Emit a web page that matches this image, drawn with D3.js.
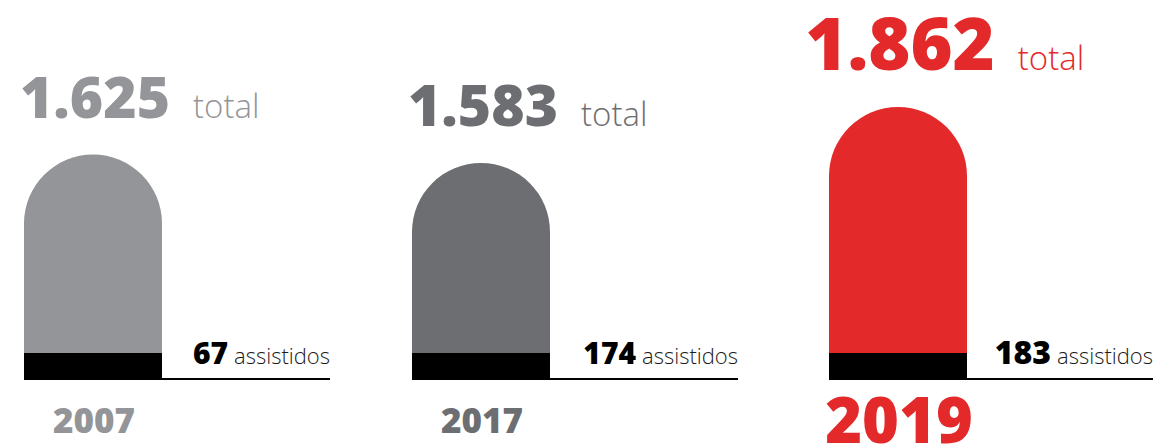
<!DOCTYPE html>
<html>
<head>
<meta charset="utf-8">
<script src="https://cdn.jsdelivr.net/npm/d3@7"></script>
<style>
  body { margin: 0; background: #fff; }
  svg text { font-family: "Open Sans", "DejaVu Sans", sans-serif; }
  .num { font-weight: 800; }
  .word { font-weight: 300; }
</style>
</head>
<body>
<div id="chart"></div>
<script>
// Data
const years = ["2007", "2017", "2019"];
const totals = [1625, 1583, 1862];
const assisted = [67, 174, 183];
const colors = ["#939598", "#6d6e71", "#e3292a"];

const width = 1159, height = 446;
const barWidth = 138;
const baseY = 380;      // bottom of the bars
const bandH = 27;       // black band at the foot of each bar

const svg = d3.select("#chart").append("svg")
    .attr("width", width)
    .attr("height", height);

// pt-BR number format (1.625)
const br = d3.formatLocale({decimal: ",", thousands: ".", grouping: [3], currency: ["R$", ""]});
const fmt = br.format(",d");

// Scales
const x = d3.scaleOrdinal().domain(years).range([24, 412, 829]);
const labelEnd = d3.scaleOrdinal().domain(years).range([330, 738, 1153]);
const h = d3.scaleLinear().domain([500, d3.max(totals)]).range([0, 273]);
const color = d3.scaleOrdinal().domain(years).range(colors);

const data = years.map((y, i) => ({year: y, total: totals[i], assisted: assisted[i], last: i === years.length - 1}));

const g = svg.selectAll("g.year")
    .data(data)
    .join("g")
    .attr("class", "year")
    .attr("transform", d => "translate(" + x(d.year) + ",0)");

// Tombstone shaped bar: rectangle with a half circle on top
g.append("path")
    .attr("fill", d => color(d.year))
    .attr("d", d => {
        const r = barWidth / 2;
        const top = baseY - h(d.total);
        const p = d3.path();
        p.moveTo(0, baseY);
        p.lineTo(0, top + r);
        p.arc(r, top + r, r, Math.PI, 0);
        p.lineTo(barWidth, baseY);
        p.closePath();
        return p.toString();
    });

// Black band at the bottom
g.append("rect")
    .attr("x", 0)
    .attr("y", baseY - bandH)
    .attr("width", barWidth)
    .attr("height", bandH)
    .attr("fill", "#000");

// Underline leading to the assisted label
g.append("line")
    .attr("x1", barWidth)
    .attr("x2", d => labelEnd(d.year) - x(d.year))
    .attr("y1", baseY - 1)
    .attr("y2", baseY - 1)
    .attr("stroke", "#000")
    .attr("stroke-width", 2);

// Assisted label, right aligned on the line end
const lab = g.append("text")
    .attr("x", d => labelEnd(d.year) - x(d.year))
    .attr("y", baseY - 16)
    .attr("text-anchor", "end")
    .attr("fill", "#1a1a1a");
lab.append("tspan")
    .attr("class", "num")
    .attr("font-size", d => d.last ? 32 : 30)
    .attr("fill", "#000")
    .text(d => d.assisted);
lab.append("tspan")
    .attr("class", "word")
    .attr("font-size", 22)
    .attr("dx", 6)
    .text("assistidos");

// Total number above each bar
const numSize = d => d.last ? 72 : 57;
const tot = g.append("text")
    .attr("class", "num")
    .attr("x", barWidth / 2 + 2)
    .attr("y", d => baseY - h(d.total) - 37)
    .attr("text-anchor", "middle")
    .attr("font-size", numSize)
    .attr("fill", d => color(d.year))
    .text(d => fmt(d.total));

// "total" word after the number
g.append("text")
    .attr("class", "word")
    .attr("font-size", 33)
    .attr("fill", d => color(d.year))
    .attr("y", d => baseY - h(d.total) - 37)
    .attr("x", function(d, i) {
        const w = tot.nodes()[i].getComputedTextLength();
        return barWidth / 2 + 2 + w / 2 + 23;
    })
    .text("total");

// Year under each bar
g.append("text")
    .attr("class", "num")
    .attr("x", barWidth / 2 + 1)
    .attr("y", d => d.last ? 443 : 433)
    .attr("text-anchor", "middle")
    .attr("font-size", d => d.last ? 63 : 35)
    .attr("fill", d => color(d.year))
    .text(d => d.year);
</script>
</body>
</html>
